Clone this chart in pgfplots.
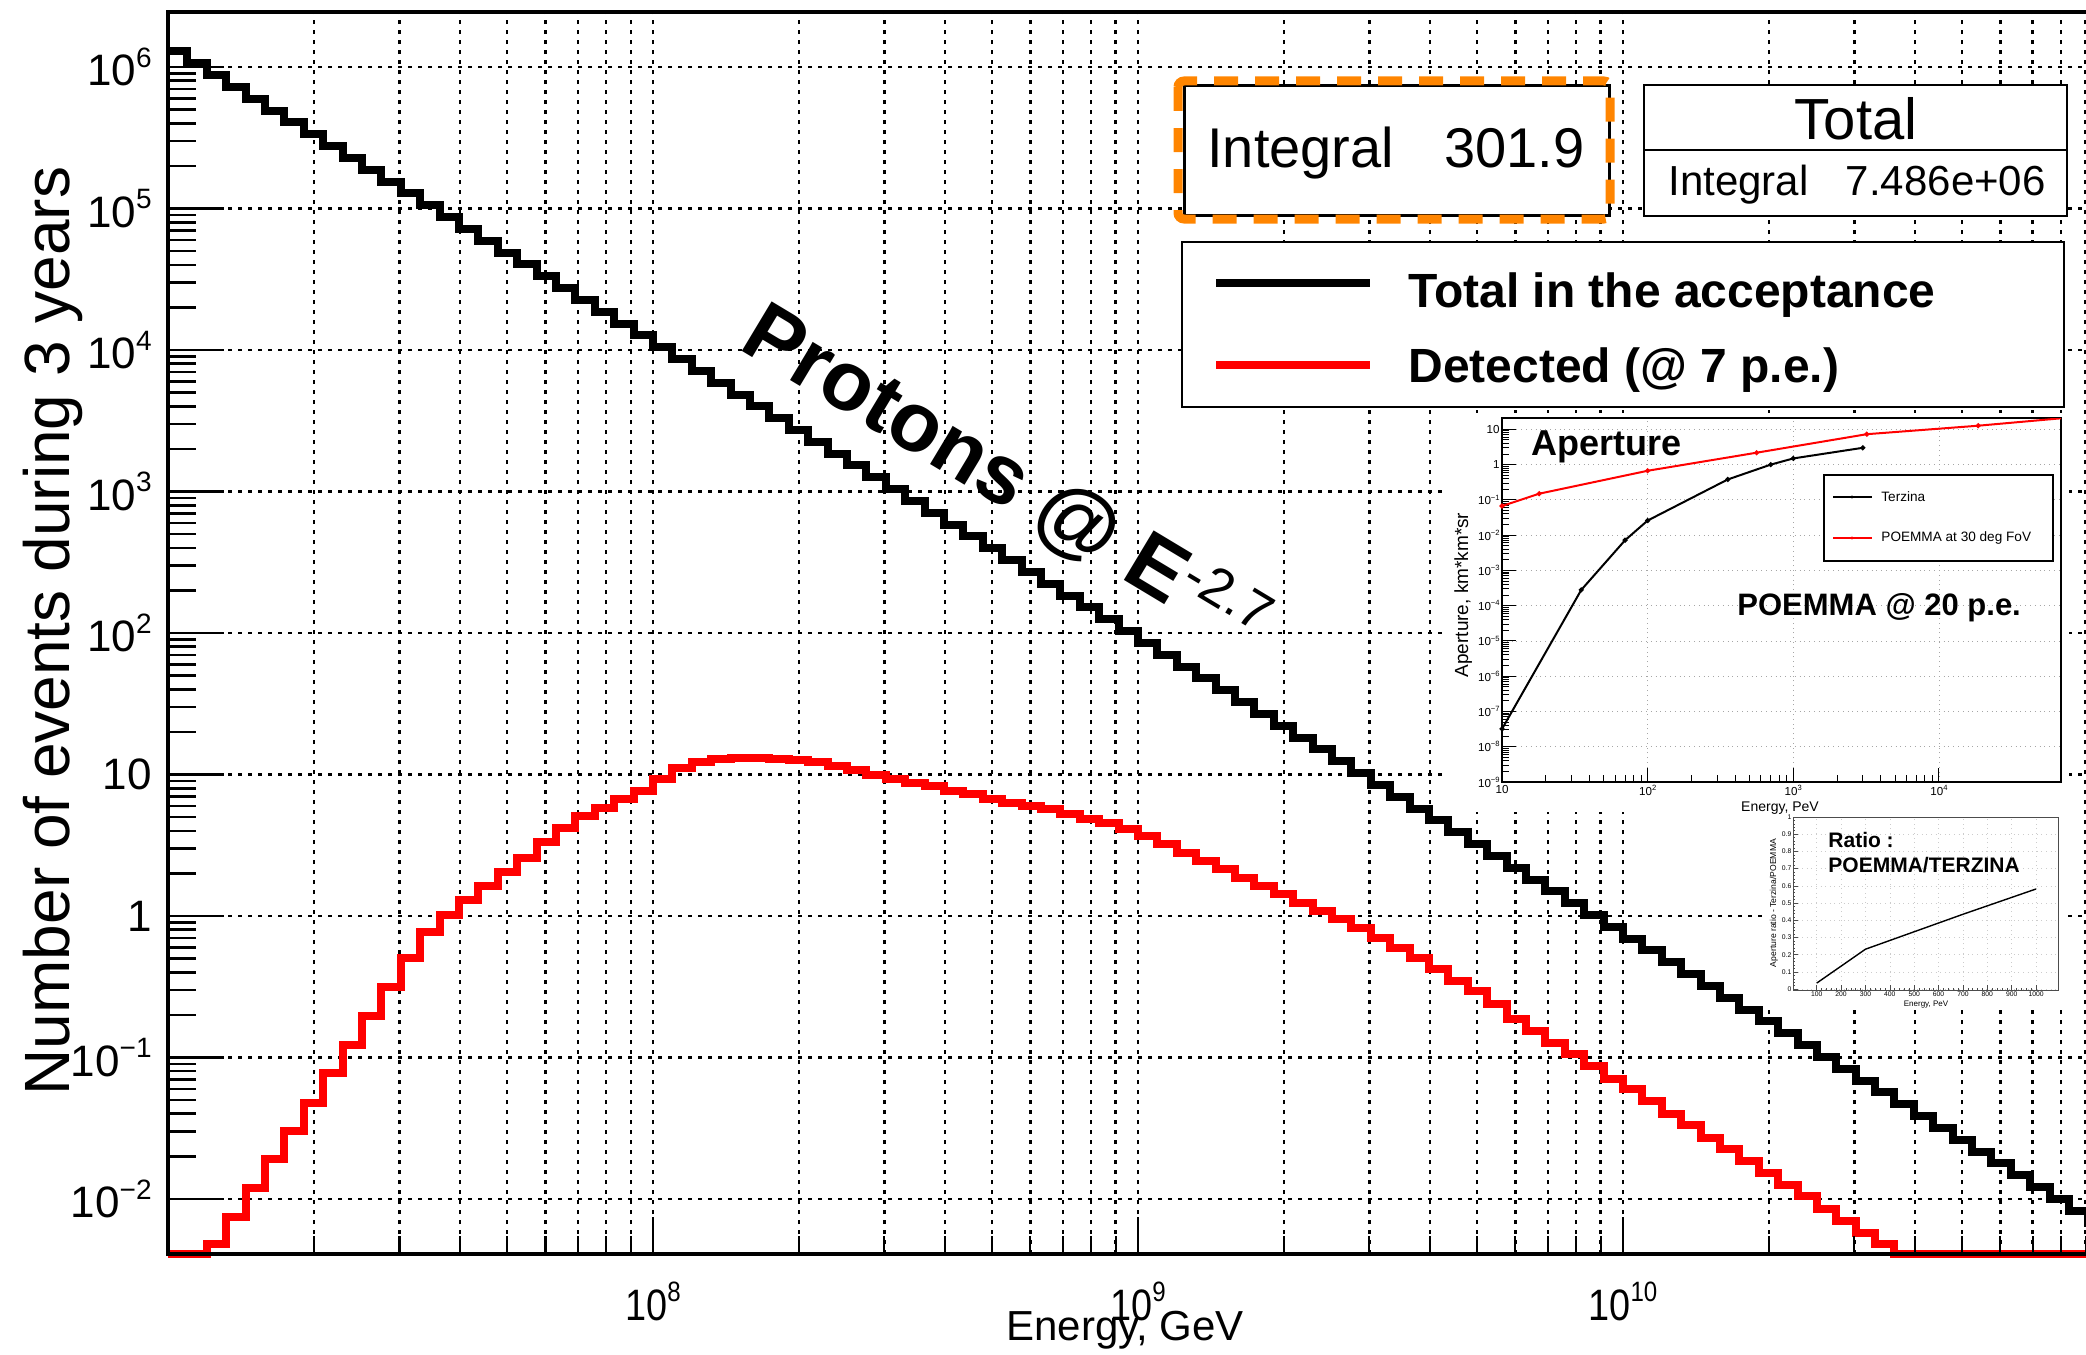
\documentclass[border=0pt]{standalone}
\usepackage{fontspec}
\setmainfont{Liberation Sans}
\usepackage{graphicx}
\usepackage{pgfplots}
\pgfplotsset{compat=1.18}
\usepackage{pgfplotstable}
\definecolor{rorange}{RGB}{255,133,0}
\newcommand{\fs}[1]{\fontsize{#1}{#1}\selectfont}
\newcommand{\tl}[1]{10\raisebox{0.42em}{\fs{14}#1}}
\newcommand{\itl}[1]{10\raisebox{0.42em}{\fs{3.8}#1}}

\pgfplotstableread{
x black red
1.0000e7 1.288e6 0.004083
1.0965e7 1.0625e6 0.004083
1.2023e7 8.764e5 0.004786
1.3183e7 7.229e5 0.007413
1.4454e7 5.963e5 0.01202
1.5849e7 4.919e5 0.01905
1.7378e7 4.058e5 0.03020
1.9055e7 3.347e5 0.04786
2.0893e7 2.761e5 0.07762
2.2909e7 2.277e5 0.1230
2.5119e7 1.879e5 0.1950
2.7542e7 1.550e5 0.3162
3.0200e7 1.278e5 0.5012
3.3113e7 1.0545e5 0.7762
3.6308e7 8.698e4 1.023
3.9811e7 7.175e4 1.288
4.3652e7 5.918e4 1.622
4.7863e7 4.882e4 2.042
5.2481e7 4.027e4 2.570
5.7544e7 3.322e4 3.311
6.3096e7 2.740e4 4.169
6.9183e7 2.260e4 5.129
7.5858e7 1.864e4 5.754
8.3176e7 1.538e4 6.761
9.1201e7 1.269e4 7.586
1.0000e8 1.0465e4 9.333
1.0965e8 8638 11.09
1.2023e8 7125 12.30
1.3183e8 5877 12.88
1.4454e8 4849 13.06
1.5849e8 3999 13.06
1.7378e8 3299 12.88
1.9055e8 2721 12.59
2.0893e8 2245 12.16
2.2909e8 1852 11.48
2.5119e8 1528 10.84
2.7542e8 1260 10.00
3.0200e8 1039 9.226
3.3113e8 857.5 8.730
3.6308e8 707.3 8.279
3.9811e8 583.4 7.621
4.3652e8 481.3 7.228
4.7863e8 397.0 6.730
5.2481e8 327.5 6.310
5.7544e8 270.1 5.970
6.3096e8 222.9 5.662
6.9183e8 183.8 5.224
7.5858e8 151.6 4.864
8.3176e8 125.1 4.560
9.1201e8 103.2 4.093
1.0000e9 85.11 3.673
1.0965e9 70.21 3.206
1.2023e9 57.91 2.799
1.3183e9 47.77 2.443
1.4454e9 39.41 2.133
1.5849e9 32.51 1.862
1.7378e9 26.81 1.629
1.9055e9 22.12 1.422
2.0893e9 18.25 1.242
2.2909e9 15.05 1.084
2.5119e9 12.42 0.9462
2.7542e9 10.24 0.8279
3.0200e9 8.449 0.7031
3.3113e9 6.969 0.5970
3.6308e9 5.749 0.5082
3.9811e9 4.743 0.4207
4.3652e9 3.912 0.3467
4.7863e9 3.227 0.2951
5.2481e9 2.661 0.2399
5.7544e9 2.196 0.1875
6.3096e9 1.811 0.1549
6.9183e9 1.494 0.1259
7.5858e9 1.2324 0.1057
8.3176e9 1.0167 0.08710
9.1201e9 0.8387 0.07079
1.0000e10 0.6918 0.05957
1.0965e10 0.5706 0.04898
1.2023e10 0.4708 0.03981
1.3183e10 0.3883 0.03311
1.4454e10 0.3203 0.02692
1.5849e10 0.2642 0.02254
1.7378e10 0.2180 0.01841
1.9055e10 0.1798 0.01514
2.0893e10 0.1483 0.01259
2.2909e10 0.1223 0.01047
2.5119e10 0.1009 0.008511
2.7542e10 0.08326 0.006982
3.0200e10 0.06867 0.005754
3.3113e10 0.05665 0.004786
3.6308e10 0.04673 0.004083
3.9811e10 0.03855 0.004083
4.3652e10 0.03180 0.004083
4.7863e10 0.02623 0.004083
5.2481e10 0.02164 0.004083
5.7544e10 0.01785 0.004083
6.3096e10 0.01472 0.004083
6.9183e10 0.01214 0.004083
7.5858e10 0.010018 0.004083
8.3176e10 0.008265 0.004083
9.1201e10 0.006817 0.004083
1.0000e11 0.006817 0.004083
}\hist

\begin{document}
\begin{tikzpicture}
\useasboundingbox (0,0) rectangle (1043pt,-677pt);
% main axis (grid, y ticks, labels, data)
\begin{axis}[
  at={(84pt,-627pt)}, anchor=south west, scale only axis,
  width=959pt, height=621pt,
  xmode=log, ymode=log,
  xmin=1e7, xmax=9.016e10, ymin=0.004083, ymax=2.449e6,
  clip=false,
  axis line style={draw=none},
  xtick={1e7,1e8,1e9,1e10,1e11},
  xticklabels={,\scalebox{0.86}[1]{\tl{8}},\scalebox{0.86}[1]{\tl{9}},\scalebox{0.86}[1]{\tl{10}},},
  ytick={1e-2,1e-1,1,10,100,1000,1e4,1e5,1e6},
  yticklabels={\tl{−2},\tl{−1},1,10,\tl{2},\tl{3},\tl{4},\tl{5},\tl{6}},
  xtick style={draw=none},
  ytick style={black, line width=1.3pt},
  tick align=inside, ytick pos=left, xtick pos=bottom,
  major tick length=28pt, minor tick length=14pt,
  xmajorgrids, xminorgrids, ymajorgrids,
  grid style={black, line width=1.3pt, dash pattern=on 1.8pt off 3.2pt},
  yticklabel style={font=\fs{22}, inner sep=0pt, xshift=-8pt},
  xticklabel style={font=\fs{22}, inner sep=0pt, yshift=-14pt},
]
\addplot[const plot mark left, black, line width=4pt, line join=miter] table[x=x,y=black]{\hist};
\addplot[const plot mark left, red, line width=4pt, line join=miter] table[x=x,y=red]{\hist};
\end{axis}
% x tick marks only
\begin{axis}[
  at={(84pt,-627pt)}, anchor=south west, scale only axis,
  width=959pt, height=621pt,
  xmode=log, ymode=log,
  xmin=1e7, xmax=9.016e10, ymin=0.004083, ymax=2.449e6,
  axis line style={draw=none},
  ytick=\empty, xtick={1e7,1e8,1e9,1e10,1e11}, xticklabels={,,,,,},
  tick align=inside, xtick pos=bottom,
  major tick length=18.5pt, minor tick length=9pt,
  xtick style={black, line width=1.1pt},
]
\end{axis}
\begin{scope}[x=0.5pt,y=-0.5pt]
  \draw[line width=2.2pt] (168,12) -- (168,1254);
  \draw[line width=2pt] (166,1254) -- (2100,1254);
  \draw[line width=1.8pt] (166,12) -- (2100,12);
  \node[rotate=90, anchor=base, inner sep=0pt, font=\fs{32}] at (69,631) {Number of events during 3 years};
  \node[anchor=base, inner sep=0pt, font=\fs{21}] at (1125,1340) {Energy, GeV};
  \node[anchor=base west, rotate=-31, inner sep=0pt, font=\bfseries\fs{42}] at (737,348)
    {Protons @ E\raisebox{12pt}{\mdseries\fs{27}-2.7}};
  % stats box 1
  \draw[line width=1.5pt, fill=white] (1184,86) rectangle (1609,215);
  \draw[rorange, line width=4.5pt, dash pattern=on 12pt off 8.5pt, rounded corners=3pt] (1178,81) rectangle (1610,219);
  \node[anchor=base west, inner sep=0pt, font=\fs{28}] at (1207,167) {Integral};
  \node[anchor=base east, inner sep=0pt, font=\fs{28}] at (1585,167) {301.9};
  % stats box 2
  \draw[line width=1.3pt, fill=white] (1644,85) rectangle (2067,216);
  \draw[line width=1.3pt] (1644,150) -- (2067,150);
  \node[anchor=base, inner sep=0pt, font=\fs{29}] at (1856,140) {Total};
  \node[anchor=base west, inner sep=0pt, font=\fs{21}] at (1668,195) {Integral};
  \node[anchor=base east, inner sep=0pt, font=\fs{21}] at (2046,195) {7.486e+06};
  % legend
  \draw[line width=1.3pt, fill=white] (1182,242) rectangle (2064,407);
  \draw[black, line width=4pt] (1216,283) -- (1370,283);
  \draw[red, line width=4pt] (1216,365) -- (1370,365);
  \node[anchor=base west, inner sep=0pt, font=\bfseries\fs{24}] at (1408,307) {Total in the acceptance};
  \node[anchor=base west, inner sep=0pt, font=\bfseries\fs{24}] at (1408,382) {Detected (@ 7 p.e.)};
  % inset backgrounds
  \fill[white] (1448,413) rectangle (2069,812);
  \fill[white] (1766,812) rectangle (2062,1008);
\end{scope}
% aperture inset
\begin{axis}[
  at={(751pt,-391pt)}, anchor=south west, scale only axis,
  width=279.5pt, height=182pt,
  xmode=log, ymode=log,
  xmin=10, xmax=6.89e4, ymin=1e-9, ymax=21,
  axis line style={line width=0.6pt},
  xtick={10,100,1000,1e4}, xticklabels={10,\itl{2},\itl{3},\itl{4}},
  ytick={1e-9,1e-8,1e-7,1e-6,1e-5,1e-4,1e-3,1e-2,1e-1,1,10},
  yticklabels={\itl{−9},\itl{−8},\itl{−7},\itl{−6},\itl{−5},\itl{−4},\itl{−3},\itl{−2},\itl{−1},1,10},
  tick align=inside, xtick pos=bottom, ytick pos=left,
  major tick length=7pt, minor tick length=3.5pt,
  tick style={black, line width=0.5pt},
  grid=major, major grid style={gray!70, line width=0.4pt, dotted},
  ticklabel style={font=\fs{5.8}},
  yticklabel style={inner sep=1pt},
  xticklabel style={inner sep=1.5pt},
]
\addplot[black, line width=1pt, mark=*, mark size=0.7pt] coordinates {
 (10,3.2e-8) (35,2.8e-4) (70,7.2e-3) (100,0.026) (355,0.38) (700,1.0) (1000,1.5) (3000,3.0)};
\addplot[red, line width=1pt, mark=*, mark size=0.7pt] coordinates {
 (10,0.067) (18,0.15) (100,0.67) (560,2.18) (3200,7.3) (18600,12.7) (69000,20.6)};
\end{axis}
% ratio inset
\begin{axis}[
  at={(896.5pt,-495pt)}, anchor=south west, scale only axis,
  width=132.5pt, height=86.5pt,
  xmin=3, xmax=1090, ymin=-0.005, ymax=1,
  axis line style={black!70, line width=0.4pt},
  xtick={100,200,...,1000}, ytick={0,0.1,...,1},
  minor x tick num=4, minor y tick num=4,
  tick align=inside, xtick pos=bottom, ytick pos=left,
  major tick length=2.5pt, minor tick length=1.2pt,
  tick style={black!70, line width=0.3pt},
  grid=major, major grid style={gray!40, line width=0.3pt, dotted},
  ticklabel style={font=\fs{3.4}, inner sep=0.6pt},
  /pgf/number format/assume math mode=true,
  /pgf/number format/1000 sep={},
]
\addplot[black, line width=0.7pt] coordinates {(100,0.035) (300,0.232) (700,0.435) (1000,0.582)};
\end{axis}
\begin{scope}[x=0.5pt,y=-0.5pt]
  \node[anchor=base west, inner sep=0pt, font=\bfseries\fs{18}] at (1531,455) {Aperture};
  \node[anchor=base west, inner sep=0pt, font=\bfseries\fs{15.5}] at (1737,615) {POEMMA @ 20 p.e.};
  \node[rotate=90, anchor=base, inner sep=0pt, font=\fs{9.5}] at (1468,595) {Aperture, km*km*sr};
  \node[anchor=base, inner sep=0pt, font=\fs{7}] at (1780,811) {Energy, PeV};
  \draw[line width=0.6pt, fill=white] (1824,475) rectangle (2053,561);
  \draw[black, line width=1.2pt] (1833,497) -- (1872,497);
  \fill[black] (1852,497) circle (1.6);
  \draw[red, line width=1.2pt] (1833,538) -- (1872,538);
  \fill[red] (1852,538) circle (1.6);
  \node[anchor=west, inner sep=0pt, font=\fs{6.8}] at (1881,497) {Terzina};
  \node[anchor=west, inner sep=0pt, font=\fs{6.8}] at (1881,538) {POEMMA at 30 deg FoV};
  \node[anchor=base west, inner sep=0pt, font=\bfseries\fs{10.5}] at (1828,847) {Ratio :};
  \node[anchor=base west, inner sep=0pt, font=\bfseries\fs{10.5}] at (1828,872) {POEMMA/TERZINA};
  \node[rotate=90, anchor=base, inner sep=0pt, font=\fs{4.3}] at (1776,903) {Aperture ratio - Terzina/POEMMA};
  \node[anchor=base, inner sep=0pt, font=\fs{4}] at (1926,1006) {Energy, PeV};
\end{scope}
\end{tikzpicture}
\end{document}
